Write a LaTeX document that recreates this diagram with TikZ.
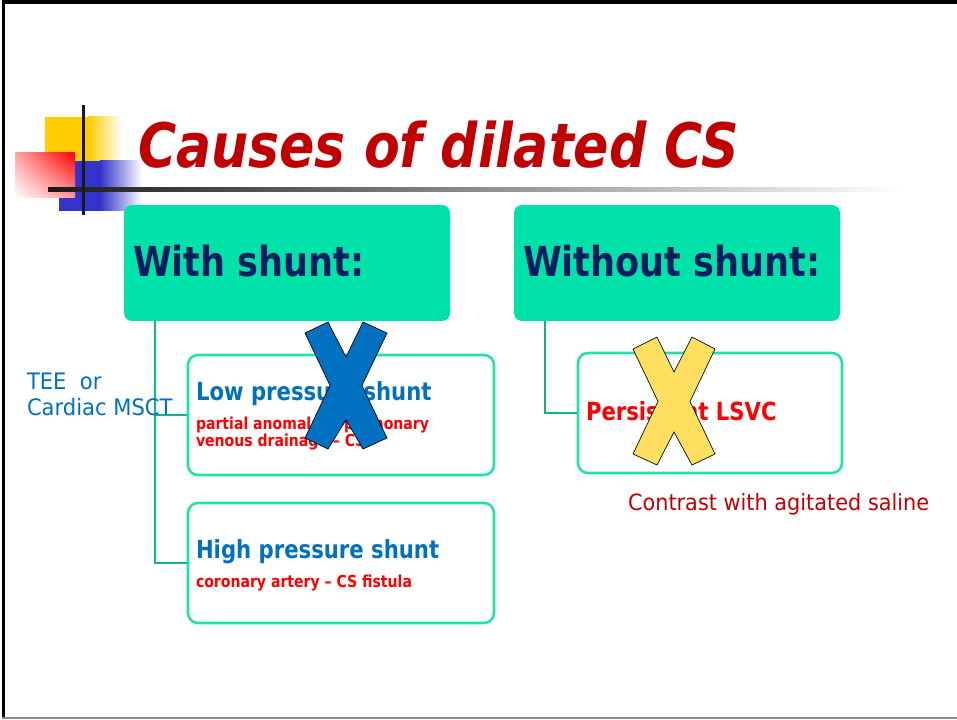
\documentclass[tikz,border=0pt]{standalone}
\usepackage{fontspec}
\setmainfont[FakeStretch=0.85]{DejaVu Sans}
\newfontfamily\regfont[FakeStretch=0.93]{DejaVu Sans}
\usetikzlibrary{calc,shadings}
\definecolor{titlered}{HTML}{C00000}
\definecolor{navy}{HTML}{001E60}
\definecolor{hdrfill}{HTML}{00E2AA}
\definecolor{boxline}{HTML}{1DE3A9}
\definecolor{connline}{HTML}{13B38A}
\definecolor{txtblue}{HTML}{0070C0}
\definecolor{txtred}{HTML}{FF0000}
\definecolor{xyellow}{HTML}{FFDF5F}
\definecolor{sqyellow}{HTML}{FFCC00}
\definecolor{sqblue}{HTML}{3333CC}
\tikzset{
  hdr/.style={fill=hdrfill, draw=none, rounded corners=6pt, minimum width=244.5pt, minimum height=87pt, inner sep=0pt},
  subbox/.style={fill=white, draw=boxline, line width=1.9pt, rounded corners=7.5pt, minimum height=90pt, inner sep=0pt},
  conn/.style={draw=connline, line width=1.5pt},
  lbl/.style={anchor=base west, inner sep=0pt, outer sep=0pt},
  crossx/.style={draw=black, line width=0.5pt, line join=miter}
}
\begin{document}
\begin{tikzpicture}[x=0.75pt, y=-0.75pt]
\useasboundingbox (0,0) rectangle (957,720);
% frame
\fill[black] (2,0) rectangle (5,719);
\fill[black] (2,0) rectangle (957,4);
\fill[black!45] (2,717) rectangle (957,719);
% decoration squares
\fill[sqyellow] (45,117) rectangle (88,161);
\shade[left color=sqyellow, right color=white] (88,117) rectangle (122,161);
\fill[sqblue] (59,161) rectangle (100,211);
\shade[left color=sqblue, right color=white] (100,161) rectangle (142,211);
\shade[upper right=red, upper left=red!35, lower right=red!40, lower left=white] (15,153) rectangle (75,198);
\shade[left color=black!90, right color=white] (48,188) rectangle (900,191.5);
\fill[black!90] (81.5,105) rectangle (85,215);
% title
\node[lbl, text=titlered, font=\fontsize{46}{50}\selectfont\bfseries\itshape] (title) at (138,168) {Causes of dilated CS};
% header boxes
\node[hdr] (ws) at (287,263) {};
\node[hdr] (wos) at (677,263) {};
\node[lbl, text=navy, font=\fontsize{31}{36}\selectfont\bfseries] (wst) at (133,277) {With shunt:};
\node[lbl, text=navy, font=\fontsize{31}{36}\selectfont\bfseries] (wost) at (523,277) {Without shunt:};
% sub boxes
\node[subbox, minimum width=229.5pt] (lp) at (341,415) {};
\node[subbox, minimum width=229.5pt] (hp) at (341,563) {};
\node[subbox, minimum width=198pt] (pl) at (710,413) {};
% connectors
\coordinate (lstem) at ($(ws.south west)+(31,0)$);
\coordinate (rstem) at ($(wos.south west)+(31,0)$);
\draw[conn] (lstem) |- (lp.west);
\draw[conn] (lstem) |- (hp.west);
\draw[conn] (rstem) |- (pl.west);
% box texts
\node[lbl, text=txtblue, font=\fontsize{18.7}{22}\selectfont\bfseries] (lpt) at (196,400) {Low pressure shunt};
\node[lbl, text=txtred, font=\fontsize{12.4}{12.75}\selectfont\bfseries, align=left] (lps) at (196,446) {partial anomalous pulmonary\\venous drainage -- CS};
\node[lbl, text=txtblue, font=\fontsize{18.7}{22}\selectfont\bfseries] (hpt) at (196,558) {High pressure shunt};
\node[lbl, text=txtred, font=\fontsize{12.4}{12.75}\selectfont\bfseries] (hps) at (196,587) {coronary artery -- CS fistula};
\node[lbl, text=txtred, font=\fontsize{18.7}{22}\selectfont\bfseries] (plt) at (586,421) {Persistent LSVC};
% side texts
\node[lbl, text=txtblue, font=\regfont\fontsize{17}{20.25}\selectfont, align=left] (tee) at (27,416) {TEE~~or\\Cardiac MSCT};
\node[lbl, text=titlered, font=\regfont\fontsize{16.8}{20}\selectfont] (contrast) at (628,510) {Contrast with agitated saline};
% crosses
\filldraw[crossx, fill=txtblue] (305,333) -- (328,322) -- (346,357) -- (363,322) -- (387,333) -- (362,385.5) -- (387,438) -- (363,449) -- (346,420) -- (328,449) -- (305,438) -- (330,385.5) -- cycle;
\filldraw[crossx, fill=xyellow] (633,349) -- (657,337) -- (674,372) -- (692,337) -- (715,349) -- (690,401.5) -- (715,454) -- (692,465) -- (674,432) -- (657,465) -- (633,454) -- (658,401.5) -- cycle;
\end{tikzpicture}
\end{document}
